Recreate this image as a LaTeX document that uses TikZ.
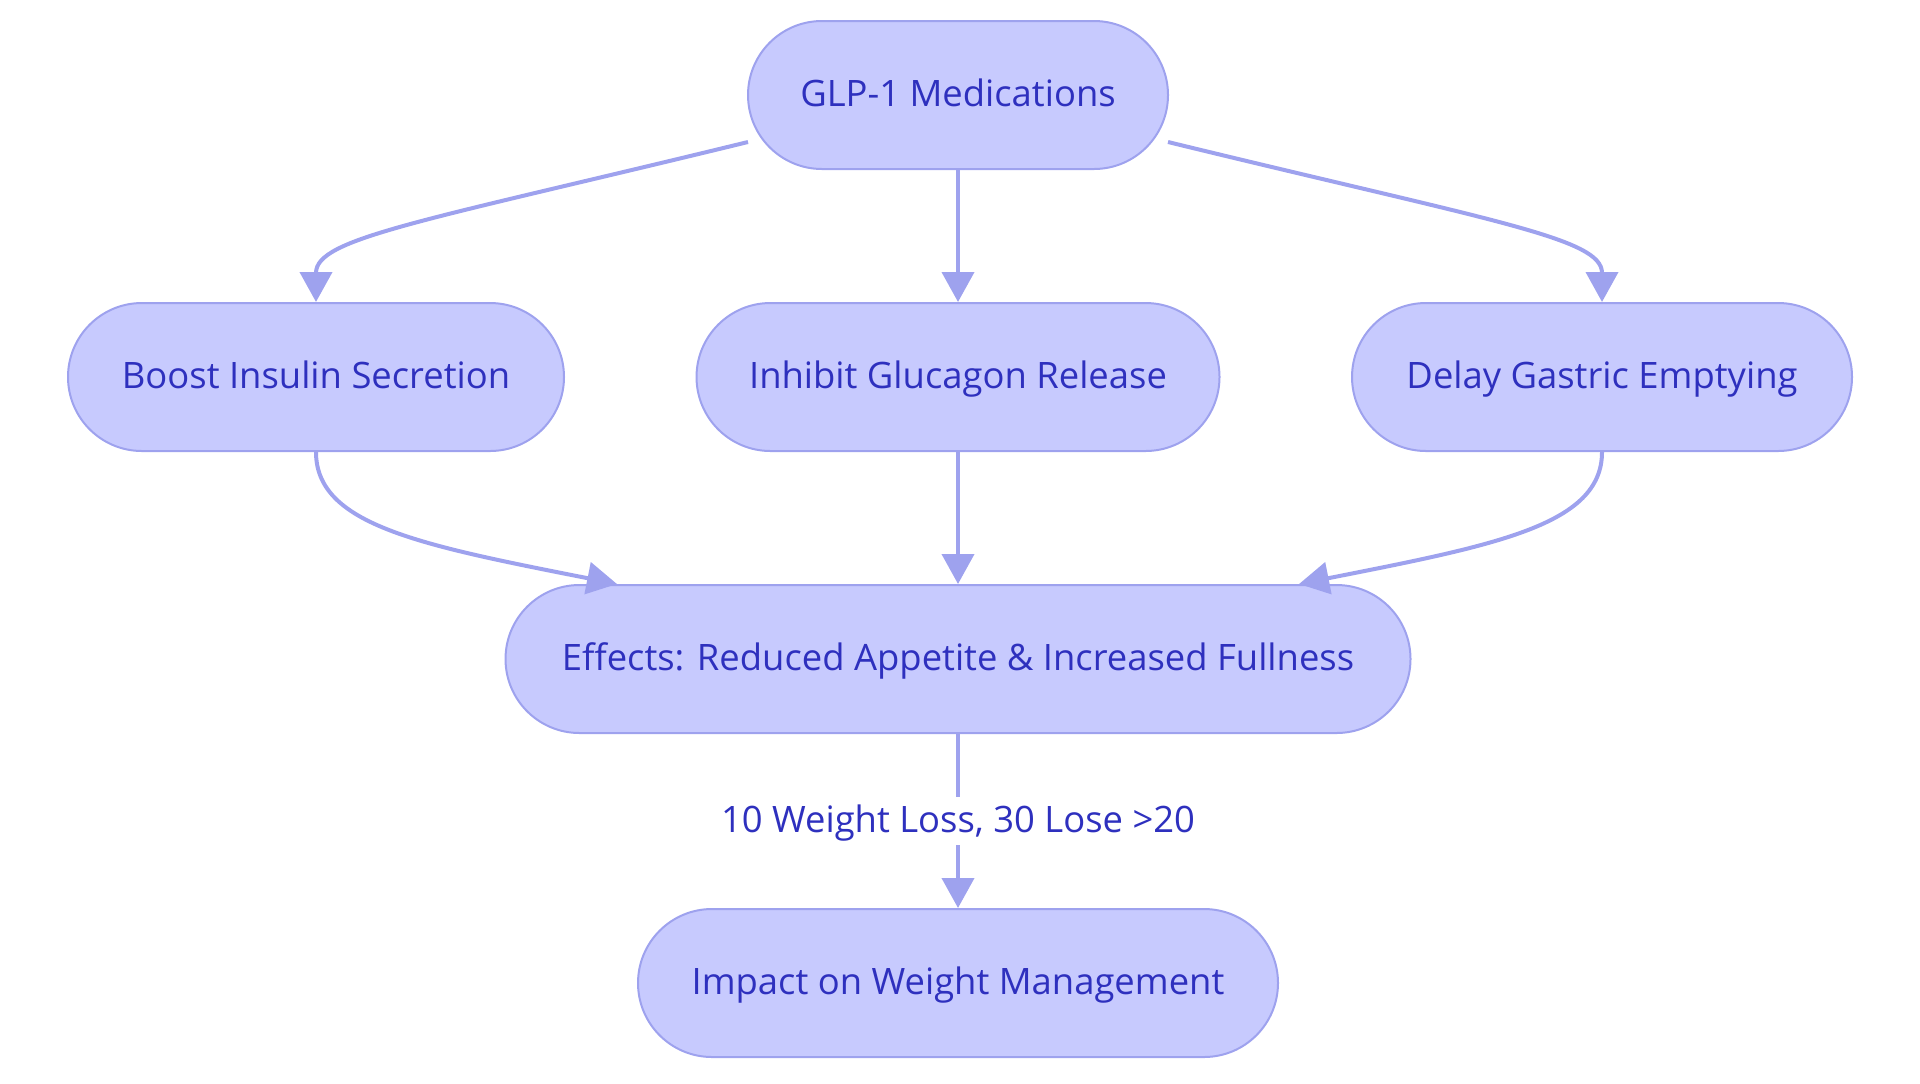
\documentclass[tikz,border=0pt]{standalone}
\usepackage{fontspec}
\setmainfont{Open Sans}
\usetikzlibrary{arrows.meta}
\definecolor{nodefill}{HTML}{C7CAFE}
\definecolor{nodeline}{HTML}{9EA2EE}
\definecolor{edgecol}{HTML}{9EA2EE}
\definecolor{txtcol}{HTML}{2E30BE}
\tikzset{
  stadium/.style={draw=nodeline, line width=1pt, fill=nodefill, rounded corners=37pt,
    minimum height=74pt, inner sep=0pt, text=txtcol, text height=15pt, text depth=3.3pt,
    font=\fontsize{18.2pt}{22pt}\selectfont},
  flow/.style={draw=edgecol, line width=2pt, -{Triangle[length=15pt,width=16pt]}},
  elabel/.style={fill=white, text=txtcol, inner sep=3pt, text height=15pt, text depth=3.3pt,
    font=\fontsize{18.2pt}{22pt}\selectfont}
}
\begin{document}
\begin{tikzpicture}[x=0.5pt,y=-0.5pt]
\useasboundingbox (0,0) rectangle (1920,1083);
\node[stadium, minimum width=210pt] (glp) at (958,95) {GLP-1 Medications};
\node[stadium, minimum width=248pt] (boost) at (316,377) {Boost Insulin Secretion};
\node[stadium, minimum width=261.5pt] (inhib) at (958,377) {Inhibit Glucagon Release};
\node[stadium, minimum width=250pt] (delay) at (1602,377) {Delay Gastric Emptying};
\node[stadium, minimum width=452.5pt] (eff) at (958,659) {Effects: Reduced Appetite \& Increased Fullness};
\node[stadium, minimum width=320pt] (imp) at (958,983) {Impact on Weight Management};
\coordinate (glpL) at (748,142);
\coordinate (glpR) at (1168,142);
\coordinate (effL) at (617,584);
\coordinate (effR) at (1299,584);
\draw[flow] (glpL) .. controls (420,222) and (316,238) .. (boost.north);
\draw[flow] (glp.south) -- (inhib.north);
\draw[flow] (glpR) .. controls (1496,222) and (1602,238) .. (delay.north);
\draw[flow] (boost.south) .. controls (316,525) and (420,545) .. (effL);
\draw[flow] (inhib.south) -- (eff.north);
\draw[flow] (delay.south) .. controls (1602,525) and (1496,545) .. (effR);
\draw[flow] (eff.south) -- (imp.north) node[elabel, pos=0.5] (lab) {10 Weight Loss, 30 Lose >20};
\end{tikzpicture}
\end{document}
